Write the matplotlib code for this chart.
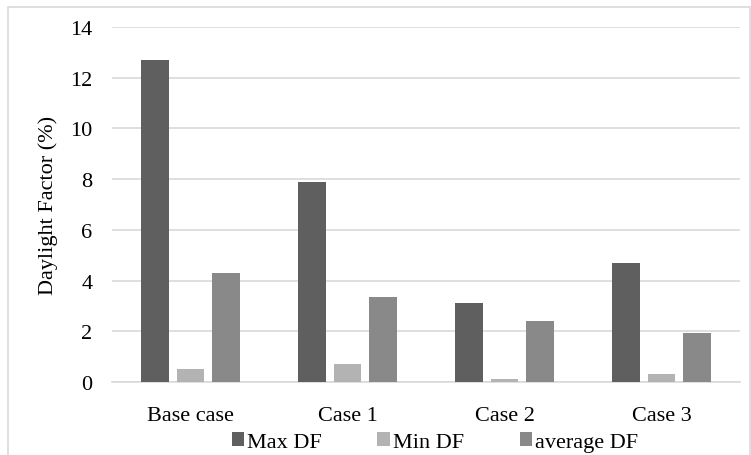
import numpy as np
import matplotlib.pyplot as plt
from matplotlib.patches import Rectangle

plt.rcParams['font.family'] = ['Liberation Serif', 'DejaVu Serif']

# Data
cases = ['Base case', 'Case 1', 'Case 2', 'Case 3']
max_df = [12.7, 7.9, 3.1, 4.7]
min_df = [0.5, 0.7, 0.1, 0.3]
avg_df = [4.3, 3.35, 2.4, 1.95]

fig = plt.figure(figsize=(7.51, 4.56), dpi=100)
ax = fig.add_axes([112 / 751, 1 - 383 / 456, 628 / 751, 355 / 456])

x = np.arange(len(cases))
w = 0.175
off = 0.225
ax.bar(x - off, max_df, w, color='#5f5f5f', label='Max DF', zorder=3)
ax.bar(x, min_df, w, color='#b3b3b3', label='Min DF', zorder=3)
ax.bar(x + off, avg_df, w, color='#898989', label='average DF', zorder=3)

ax.set_xlim(-0.5, len(cases) - 0.5)
ax.set_ylim(0, 14)
ax.set_yticks(range(0, 15, 2))
ax.set_xticks(x)
ax.set_xticklabels(cases)
ax.yaxis.grid(True, color='#d9d9d9', linewidth=1.2, zorder=0)
ax.set_axisbelow(True)
for s in ['top', 'right', 'left']:
    ax.spines[s].set_visible(False)
ax.spines['bottom'].set_color('#d9d9d9')
ax.spines['bottom'].set_linewidth(1.2)
ax.tick_params(axis='both', length=0, labelsize=16, colors='black')
ax.tick_params(axis='x', pad=17)
ax.tick_params(axis='y', pad=14)
ax.set_ylabel('Daylight Factor (%)', fontsize=16, labelpad=9)

fig.legend(loc='center', bbox_to_anchor=(435 / 751, 1 - 443 / 456), ncol=3,
           frameon=False, fontsize=16, handlelength=0.55, handleheight=0.55,
           handletextpad=0.15, columnspacing=2.5, borderpad=0)

# light frame around the chart area
fig.patches.append(Rectangle((8 / 751, -0.1), 742 / 751, 1 - 8 / 456 + 0.1,
                             transform=fig.transFigure, fill=False,
                             edgecolor='#d9d9d9', linewidth=1.2))

fig.savefig('out.png', dpi=100)
